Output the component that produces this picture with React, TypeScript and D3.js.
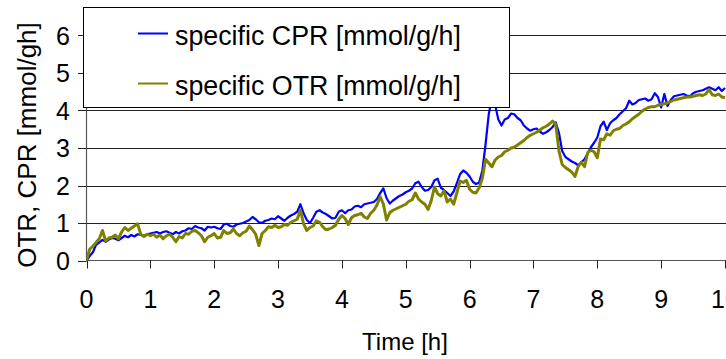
import React from "react";
import * as d3 from "d3";

// sampling times [h]
const TIME_H = [
  0, 0.05, 0.1, 0.15, 0.2, 0.25, 0.3, 0.35, 0.4, 0.45, 0.5, 0.55, 0.6, 0.65, 0.7, 0.75, 0.8, 0.85, 0.9, 0.95,
  1, 1.05, 1.1, 1.15, 1.2, 1.25, 1.3, 1.35, 1.4, 1.45, 1.5, 1.55, 1.6, 1.65, 1.7, 1.75, 1.8, 1.85, 1.9, 1.95,
  2, 2.05, 2.1, 2.15, 2.2, 2.25, 2.3, 2.35, 2.4, 2.45, 2.5, 2.55, 2.6, 2.65, 2.7, 2.75, 2.8, 2.85, 2.9, 2.95,
  3, 3.05, 3.1, 3.15, 3.2, 3.25, 3.3, 3.35, 3.4, 3.45, 3.5, 3.55, 3.6, 3.65, 3.7, 3.75, 3.8, 3.85, 3.9, 3.95,
  4, 4.05, 4.1, 4.15, 4.2, 4.25, 4.3, 4.35, 4.4, 4.45, 4.5, 4.55, 4.6, 4.65, 4.7, 4.75, 4.8, 4.85, 4.9, 4.95,
  5, 5.05, 5.1, 5.15, 5.2, 5.25, 5.3, 5.35, 5.4, 5.45, 5.5, 5.55, 5.6, 5.65, 5.7, 5.75, 5.8, 5.85, 5.9, 5.95,
  6, 6.05, 6.1, 6.15, 6.2, 6.25, 6.3, 6.35, 6.4, 6.45, 6.5, 6.55, 6.6, 6.65, 6.7, 6.75, 6.8, 6.85, 6.9, 6.95,
  7, 7.05, 7.1, 7.15, 7.2, 7.25, 7.3, 7.35, 7.4, 7.45, 7.5, 7.55, 7.6, 7.65, 7.7, 7.75, 7.8, 7.85, 7.9, 7.95,
  8, 8.05, 8.1, 8.15, 8.2, 8.25, 8.3, 8.35, 8.4, 8.45, 8.5, 8.55, 8.6, 8.65, 8.7, 8.75, 8.8, 8.85, 8.9, 8.95,
  9, 9.05, 9.1, 9.15, 9.2, 9.25, 9.3, 9.35, 9.4, 9.45, 9.5, 9.55, 9.6, 9.65, 9.7, 9.75, 9.8, 9.85, 9.9, 9.95,
  10,
];

// specific CPR [mmol/g/h]
const CPR = [
  0, 0.12, 0.22, 0.42, 0.48, 0.55, 0.5, 0.56, 0.6, 0.58, 0.54, 0.6, 0.66, 0.62, 0.68, 0.64, 0.7, 0.68, 0.66, 0.7,
  0.72, 0.74, 0.76, 0.72, 0.76, 0.78, 0.74, 0.7, 0.76, 0.72, 0.78, 0.8, 0.86, 0.84, 0.92, 0.88, 0.86, 0.8, 0.9, 0.88,
  0.9, 0.86, 0.84, 0.96, 0.98, 0.92, 0.9, 0.96, 0.98, 1.0, 1.04, 1.08, 1.16, 1.1, 1.02, 1.0, 1.06, 1.08, 1.12, 1.1,
  1.18, 1.12, 1.06, 1.14, 1.2, 1.24, 1.3, 1.5, 1.26, 1.08, 1.0, 1.14, 1.3, 1.34, 1.28, 1.24, 1.18, 1.12, 1.14, 1.3,
  1.34, 1.26, 1.34, 1.36, 1.44, 1.46, 1.42, 1.5, 1.52, 1.54, 1.56, 1.64, 1.8, 1.92, 1.66, 1.52, 1.6, 1.66, 1.72, 1.76,
  1.82, 1.86, 1.92, 2.06, 2.1, 1.96, 1.86, 1.88, 1.96, 2.14, 2.18, 1.94, 1.88, 1.8, 1.72, 1.84, 2.06, 2.3, 2.4, 2.34,
  2.24, 2.1, 2.04, 2.08, 2.4, 3.1, 3.9, 4.35, 4.15, 3.76, 3.6, 3.76, 3.8, 3.92, 3.9, 3.8, 3.74, 3.6, 3.52, 3.46,
  3.5, 3.52, 3.44, 3.38, 3.42, 3.48, 3.56, 3.68, 3.4, 2.92, 2.76, 2.7, 2.64, 2.6, 2.54, 2.62, 2.7, 2.86, 3.02, 3.14,
  3.28, 3.58, 3.7, 3.48, 3.66, 3.74, 3.8, 3.9, 3.98, 4.06, 4.26, 4.16, 4.2, 4.28, 4.3, 4.32, 4.26, 4.3, 4.46, 4.36,
  4.08, 4.44, 4.12, 4.28, 4.38, 4.4, 4.42, 4.44, 4.4, 4.38, 4.46, 4.5, 4.52, 4.54, 4.58, 4.62, 4.58, 4.54, 4.62, 4.52,
  4.6,
];

// specific OTR [mmol/g/h]
const OTR = [
  0, 0.3, 0.38, 0.48, 0.58, 0.8, 0.52, 0.6, 0.62, 0.68, 0.58, 0.76, 0.88, 0.8, 0.86, 0.92, 0.98, 0.7, 0.64, 0.7,
  0.66, 0.7, 0.62, 0.68, 0.58, 0.66, 0.7, 0.62, 0.5, 0.64, 0.6, 0.72, 0.7, 0.78, 0.8, 0.74, 0.66, 0.5, 0.62, 0.66,
  0.72, 0.6, 0.62, 0.8, 0.72, 0.74, 0.84, 0.72, 0.66, 0.74, 0.78, 0.92, 0.82, 0.7, 0.4, 0.72, 0.8, 0.9, 0.88, 0.94,
  0.88, 0.9, 0.96, 0.94, 1.02, 1.06, 1.1, 1.34, 0.98, 0.8, 0.88, 0.92, 1.06, 1.02, 0.9, 0.82, 0.84, 0.88, 0.94, 1.1,
  1.2, 1.12, 0.96, 1.14, 1.2, 1.22, 1.26, 1.16, 1.12, 1.26, 1.34, 1.48, 1.7, 1.5, 1.08, 1.28, 1.34, 1.38, 1.42, 1.46,
  1.5, 1.58, 1.62, 1.8, 1.64, 1.56, 1.5, 1.36, 1.6, 1.96, 1.78, 1.72, 1.86, 1.56, 1.64, 1.5, 1.8, 2.12, 2.08, 2.14,
  1.9, 1.82, 1.8, 1.94, 2.2, 2.7, 2.6, 2.5, 2.68, 2.76, 2.8, 2.9, 2.94, 3.0, 3.02, 3.08, 3.14, 3.2, 3.28, 3.34,
  3.38, 3.42, 3.48, 3.54, 3.58, 3.64, 3.72, 3.62, 2.92, 2.56, 2.48, 2.42, 2.36, 2.24, 2.5, 2.62, 2.5, 2.88, 2.94, 2.9,
  2.74, 3.24, 3.22, 3.38, 3.34, 3.46, 3.5, 3.52, 3.6, 3.64, 3.7, 3.78, 3.84, 3.9, 3.98, 4.04, 4.08, 4.1, 4.1, 4.14,
  4.16, 4.18, 4.2, 4.24, 4.28, 4.3, 4.32, 4.34, 4.36, 4.36, 4.38, 4.4, 4.42, 4.4, 4.44, 4.56, 4.42, 4.4, 4.44, 4.36,
  4.34,
];

const X_TICKS = [0, 1, 2, 3, 4, 5, 6, 7, 8, 9, 10];
const Y_TICKS = [0, 1, 2, 3, 4, 5, 6];

const SERIES = [
  { name: "specific CPR [mmol/g/h]", values: CPR, color: "#0000ff", width: 2.2 },
  { name: "specific OTR [mmol/g/h]", values: OTR, color: "#808000", width: 3 },
];

const FONT = "'Liberation Sans', Arial, sans-serif";

export default function App() {
  const width = 726;
  const height = 359;
  const left = 86.5;
  const right = 725;
  const bottom = 260.5;

  const x = d3.scaleLinear().domain([0, 10]).range([left, right]);
  const y = d3.scaleLinear().domain([0, 6.5]).range([bottom, bottom - 6.5 * 37.5]);

  const line = (vals: number[]) =>
    d3
      .line<number>()
      .x((_, i) => x(TIME_H[i]))
      .y((v) => y(v))(vals) || "";

  return (
    <svg
      width={width}
      height={height}
      style={{ position: "absolute", left: 0, top: 0, background: "#fff" }}
      fontFamily={FONT}
    >
      <defs>
        <clipPath id="plot">
          <rect x={left} y={0} width={width - left} height={bottom + 1} />
        </clipPath>
      </defs>

      {/* gridlines */}
      {Y_TICKS.filter((t) => t > 0).map((t) => (
        <line
          key={"g" + t}
          x1={left}
          x2={width}
          y1={Math.round(y(t)) + 0.5}
          y2={Math.round(y(t)) + 0.5}
          stroke="#222"
          strokeWidth={1}
        />
      ))}

      {/* axes */}
      <line x1={left} x2={width} y1={bottom} y2={bottom} stroke="#555" strokeWidth={1.2} />
      <line x1={left} x2={left} y1={bottom} y2={y(6.5)} stroke="#555" strokeWidth={1.2} />

      {Y_TICKS.map((t) => (
        <g key={"y" + t}>
          <line x1={78} x2={left} y1={Math.round(y(t)) + 0.5} y2={Math.round(y(t)) + 0.5} stroke="#222" />
          <text x={70} y={y(t)} dy="0.36em" textAnchor="end" fontSize={25} fill="#000">
            {t}
          </text>
        </g>
      ))}

      {X_TICKS.map((t) => (
        <g key={"x" + t}>
          <line x1={Math.round(x(t)) + 0.5} x2={Math.round(x(t)) + 0.5} y1={bottom} y2={bottom + 8} stroke="#222" />
          <text x={x(t)} y={308} textAnchor="middle" fontSize={25} fill="#000">
            {t}
          </text>
        </g>
      ))}

      {/* series */}
      <g clipPath="url(#plot)">
        {SERIES.map((s) => (
          <path
            key={s.name}
            d={line(s.values)}
            fill="none"
            stroke={s.color}
            strokeWidth={s.width}
            strokeLinejoin="round"
          />
        ))}
      </g>

      {/* axis titles */}
      <text x={405} y={350} textAnchor="middle" fontSize={24} fill="#000">
        Time [h]
      </text>
      <text
        transform={`translate(35.5, 145) rotate(-90)`}
        textAnchor="middle"
        fontSize={26}
        fill="#000"
      >
        OTR, CPR [mmol/gh]
      </text>

      {/* legend */}
      <rect x={83.5} y={7.5} width={426} height={100} fill="#fff" stroke="#000" strokeWidth={1} />
      {SERIES.map((s, i) => (
        <g key={"l" + i}>
          <line x1={138} x2={168} y1={33.5 + i * 50} y2={33.5 + i * 50} stroke={s.color} strokeWidth={2} />
          <text x={175} y={45 + i * 50} fontSize={26.8} fill="#000">
            {s.name}
          </text>
        </g>
      ))}
    </svg>
  );
}
